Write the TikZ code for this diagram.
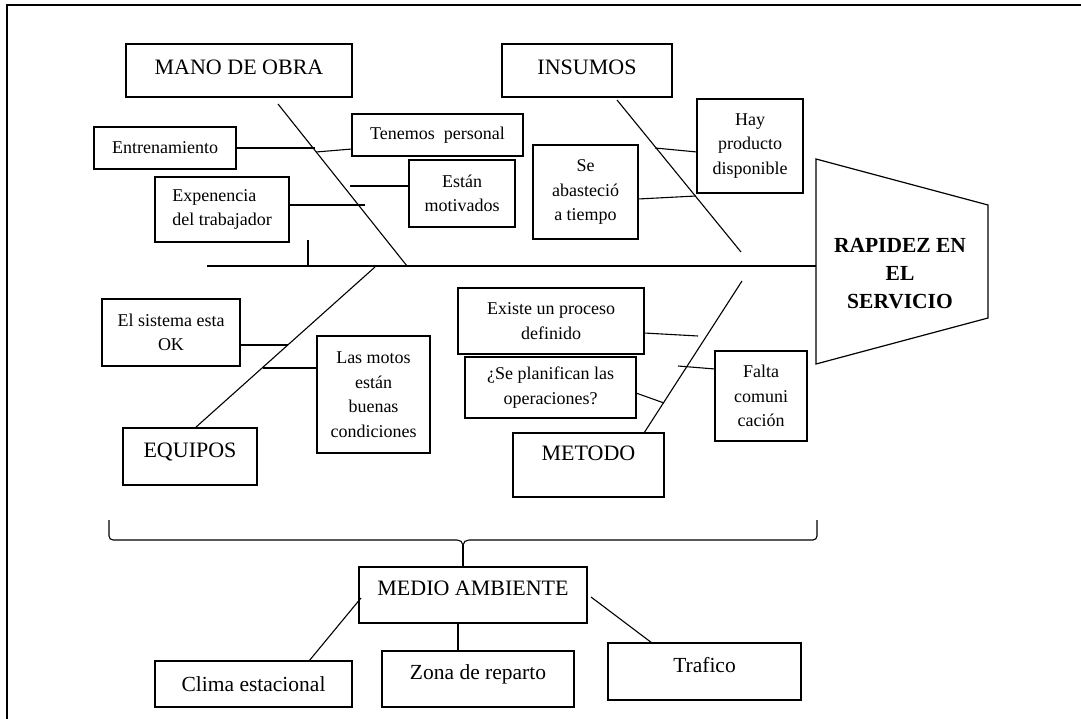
\documentclass[tikz,border=0pt]{standalone}
\usepackage{fontspec}
\setmainfont{Liberation Serif}
\begin{document}
\begin{tikzpicture}[x=1pt,y=-1pt,
  box/.style={draw, line width=1.2pt, rectangle, inner sep=0pt, align=center},
  head/.style={box, font=\fontsize{22}{26}\selectfont},
  cause/.style={box, font=\fontsize{18}{24.5}\selectfont},
  lift/.style={text height=15pt, text depth=#1},
  bone/.style={line width=1.1pt},
  link/.style={line width=1.1pt}]
\useasboundingbox (0,0) rectangle (1081,719);

% frame
\draw[line width=1.1pt] (1081,5) -- (7,5) -- (7,719);

% category boxes
\node[head, minimum width=226pt, minimum height=53pt, lift=7pt] (mano) at (239,70.5) {MANO DE OBRA};
\node[head, minimum width=170pt, minimum height=53pt, lift=7pt] (insumos) at (587,70.5) {INSUMOS};
\node[head, minimum width=134pt, minimum height=57pt, lift=13pt] (equipos) at (190,456.5) {EQUIPOS};
\node[head, minimum width=151pt, minimum height=64pt, lift=24pt] (metodo) at (588.5,465) {METODO};
\node[head, minimum width=228pt, minimum height=56pt, lift=14pt] (medio) at (473,595) {MEDIO AMBIENTE};

% cause boxes
\node[cause, minimum width=142pt, minimum height=42pt] (entren) at (165,148) {Entrenamiento};
\node[cause, minimum width=171pt, minimum height=42pt] (tenemos) at (437.5,135) {Tenemos~ personal};
\node[cause, minimum width=106pt, minimum height=94pt] (hay) at (750,146) {Hay\\producto\\disponible};
\node[cause, minimum width=105pt, minimum height=94pt] (seab) at (585.5,192) {Se\\abasteció\\a tiempo};
\node[cause, minimum width=134pt, minimum height=65pt, align=left] (exper) at (222,209.5) {Expenencia\\del trabajador};
\node[cause, minimum width=106pt, minimum height=67pt] (motiv) at (462,193.5) {Están\\motivados};
\node[cause, minimum width=138pt, minimum height=67pt] (sistema) at (171,332.5) {El sistema esta\\OK};
\node[cause, minimum width=113pt, minimum height=117pt] (motos) at (373.5,394.5) {Las motos\\están\\buenas\\condiciones};
\node[cause, minimum width=186pt, minimum height=66pt] (existe) at (551,321) {Existe un proceso\\definido};
\node[cause, minimum width=171pt, minimum height=61pt] (planif) at (550.5,387.5) {¿Se planifican las\\operaciones?};
\node[cause, minimum width=92pt, minimum height=90pt] (falta) at (761,396) {Falta\\comuni\\cación};

% environment boxes
\node[head, font=\fontsize{21.5}{26}\selectfont, minimum width=197pt, minimum height=46pt] (clima) at (253.5,684) {Clima estacional};
\node[head, font=\fontsize{21.5}{26}\selectfont, minimum width=192pt, minimum height=56pt, lift=14pt] (zona) at (478,679) {Zona de reparto};
\node[head, font=\fontsize{21.5}{26}\selectfont, minimum width=193pt, minimum height=57pt, lift=13pt] (trafico) at (704.5,671.5) {Trafico};

% effect head
\coordinate (hA) at (816,159);
\coordinate (hB) at (988,205);
\coordinate (hC) at (988,318);
\coordinate (hD) at (816,364);
\coordinate (spineR) at (816,266);
\coordinate (spineL) at (207,266);
\draw[line width=1.2pt] (hA) -- (hB) -- (hC) -- (hD) -- cycle;
\node[font=\bfseries\fontsize{21.5}{28}\selectfont, align=center, inner sep=0pt] (efecto) at (900,274) {RAPIDEZ EN\\EL\\SERVICIO};

% spine
\draw[bone] (spineL) -- (spineR);

% bones
\coordinate (manoTop) at (278,104);
\coordinate (manoFoot) at (407,266);
\coordinate (insTop) at (617,100);
\coordinate (insFoot) at (741,252);
\coordinate (eqTop) at (375,267);
\coordinate (eqFoot) at (195,428);
\coordinate (metTop) at (742,281);
\coordinate (metFoot) at (644,433);
\draw[bone] (manoTop) -- (manoFoot);
\draw[bone] (insTop) -- (insFoot);
\draw[bone] (eqTop) -- (eqFoot);
\draw[bone] (metTop) -- (metFoot);

% MANO DE OBRA branches
\coordinate (e1) at (315,148);
\draw[link] (entren.east) -- (e1);
\coordinate (t1) at (316,152);
\coordinate (t2) at (352,149);
\draw[link] (t1) -- (t2);
\coordinate (m1) at (350,186);
\draw[link] (m1) -- (m1 -| motiv.west);
\coordinate (x1) at (365,205);
\draw[link] (x1 -| exper.east) -- (x1);
\coordinate (k1) at (308,240);
\coordinate (k2) at (308,266);
\draw[link] (k1) -- (k2);

% INSUMOS branches
\coordinate (h1) at (655,148);
\coordinate (h2) at (697,152);
\draw[link] (h1) -- (h2);
\coordinate (s1) at (638,199);
\coordinate (s2) at (696,196);
\draw[link] (s1) -- (s2);

% EQUIPOS branches
\coordinate (q1) at (288,345);
\draw[link] (q1 -| sistema.east) -- (q1);
\coordinate (q2) at (263,368);
\draw[link] (q2) -- (q2 -| motos.west);

% METODO branches
\coordinate (r0) at (644,333);
\coordinate (r1) at (698,336);
\draw[link] (r0) -- (r1);
\coordinate (p0) at (636,393);
\coordinate (p1) at (664,403);
\draw[link] (p0) -- (p1);
\coordinate (f0) at (678,366);
\coordinate (f1) at (715,369);
\draw[link] (f0) -- (f1);

% brace gathering the causes into MEDIO AMBIENTE
\coordinate (bL) at (109,520);
\coordinate (bR) at (817,520);
\coordinate (bM) at (463,545);
\draw[link] (bL) -- (109,536) to[out=270,in=180] (113,540) -- (457,540)
  to[out=0,in=90] (bM) to[out=90,in=180] (469,540) -- (813,540)
  to[out=0,in=270] (817,536) -- (bR);
\draw[link] (bM) -- (bM |- medio.north);

% environment branches
\coordinate (c1) at (361,598);
\coordinate (c2) at (309,661);
\draw[link] (c1) -- (c2);
\coordinate (z1) at (458,623);
\draw[link] (z1) -- (z1 |- zona.north);
\coordinate (v1) at (591,597);
\coordinate (v2) at (652,643);
\draw[link] (v1) -- (v2);
\end{tikzpicture}
\end{document}
